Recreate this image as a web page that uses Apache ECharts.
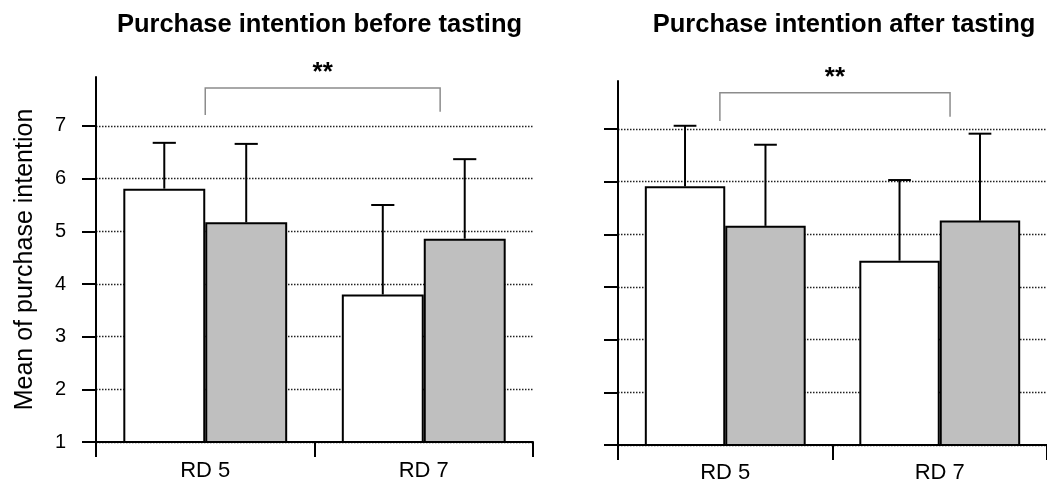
<!DOCTYPE html>
<html><head><meta charset="utf-8">
<script src="https://cdn.jsdelivr.net/npm/echarts@6/dist/echarts.min.js"></script>
<style>html,body{margin:0;padding:0;background:#fff}#c{width:1047px;height:487px}</style>
</head><body><div id="c"></div>
<script>
// ---- data ----
const categories = ['RD 5', 'RD 7'];
const yTicks = [1, 2, 3, 4, 5, 6, 7];
const titles = ['Purchase intention before tasting', 'Purchase intention after tasting'];
const yAxisTitle = 'Mean of purchase intention';
const beforeWhite = [5.81, 3.80];
const beforeWhiteSD = [0.87, 1.70];
const beforeGray = [5.17, 4.86];
const beforeGraySD = [1.49, 1.51];
const afterWhite = [5.91, 4.50];
const afterWhiteSD = [1.15, 1.53];
const afterGray = [5.16, 5.26];
const afterGraySD = [1.54, 1.65];
const sigLabel = '**';
// [from (band units from RD 5 centre), to, top value, left leg end, right leg end]
const bracketBefore = [0, 1.075, 7.72, 7.21, 7.27];
const bracketAfter = [-0.025, 1.048, 7.685, 7.15, 7.23];
const yMin = 1;
const yMaxes = [7.93, 7.91];

// ---- style / layout ----
const FONT = 'Liberation Sans, Arial, Helvetica, sans-serif';
const grids = [
  { left: 96, top: 77, width: 437, height: 365 },
  { left: 618, top: 81, width: 438, height: 364 }
];
const BAR_FRAC = 0.375;

const panels = [
  { white: beforeWhite, whiteSD: beforeWhiteSD, gray: beforeGray, graySD: beforeGraySD, bracket: bracketBefore },
  { white: afterWhite, whiteSD: afterWhiteSD, gray: afterGray, graySD: afterGraySD, bracket: bracketAfter }
];

function errRender(side) {
  return function (params, api) {
    const cat = api.value(0), m = api.value(1), sd = api.value(2);
    const band = api.size([1, 0])[0];
    const c0 = api.coord([cat, m]);
    const c1 = api.coord([cat, m + sd]);
    const x = c0[0] + side * band * BAR_FRAC / 2;
    const cap = band * 0.053;
    return { type: 'group', children: [
      { type: 'line', shape: { x1: x, y1: c0[1], x2: x, y2: c1[1] }, style: { stroke: '#000', lineWidth: 2 } },
      { type: 'line', shape: { x1: x - cap, y1: c1[1], x2: x + cap, y2: c1[1] }, style: { stroke: '#000', lineWidth: 2 } }
    ]};
  };
}

function bracketRender(params, api) {
  const f0 = api.value(0), f1 = api.value(1), top = api.value(2), lb = api.value(3), rb = api.value(4);
  const band = api.size([1, 0])[0];
  const base = api.coord([0, top]);
  const xa = base[0] + f0 * band, xb = base[0] + f1 * band;
  const yl = api.coord([0, lb])[1], yr = api.coord([0, rb])[1];
  return { type: 'group', children: [
    { type: 'polyline', shape: { points: [[xa, yl], [xa, base[1]], [xb, base[1]], [xb, yr]] },
      style: { stroke: '#8c8c8c', lineWidth: 1.5, fill: 'none' } },
    { type: 'text', x: (xa + xb) / 2, y: base[1] - 2,
      style: { text: sigLabel, font: 'bold 26px ' + FONT, align: 'center', verticalAlign: 'bottom', fill: '#000' } }
  ]};
}

const option = {
  animation: false,
  backgroundColor: '#fff',
  title: titles.map((t, i) => ({
    text: t, left: grids[i].left + grids[i].width / 2 + (i === 0 ? 5 : 7), top: 12, textAlign: 'center', padding: 0,
    textStyle: { fontFamily: FONT, fontSize: 25.5, fontWeight: 'bold', color: '#000' }
  })),
  grid: grids.map(g => Object.assign({ containLabel: false }, g)),
  xAxis: grids.map((g, i) => ({
    type: 'category', gridIndex: i, data: categories, boundaryGap: true,
    axisLine: { lineStyle: { color: '#000', width: 2 } },
    axisTick: { show: true, length: 15, alignWithLabel: false, lineStyle: { color: '#000', width: 2 } },
    axisLabel: { fontFamily: FONT, fontSize: 22, color: '#000', margin: i === 0 ? 18 : 17 },
    splitLine: { show: false }
  })),
  yAxis: grids.map((g, i) => ({
    type: 'value', gridIndex: i, min: yMin, max: yMaxes[i], interval: 1,
    name: i === 0 ? yAxisTitle : '', nameLocation: 'middle', nameGap: 58,
    nameTextStyle: { fontFamily: FONT, fontSize: 25, color: '#000' },
    axisLine: { show: true, lineStyle: { color: '#000', width: 2 } },
    axisTick: { show: true, length: 14, customValues: yTicks, lineStyle: { color: '#000', width: 2 } },
    axisLabel: { show: i === 0, customValues: yTicks, fontFamily: FONT, fontSize: 20, color: '#000', margin: 30 },
    splitLine: { show: true, lineStyle: { color: '#222', width: 1.3, type: [1.5, 1.5] } }
  })),
  series: []
};

panels.forEach((p, i) => {
  option.series.push(
    { type: 'bar', xAxisIndex: i, yAxisIndex: i, data: p.white, barWidth: (BAR_FRAC * 100) + '%', barGap: '0%',
      itemStyle: { color: '#ffffff', borderColor: '#000', borderWidth: 2 }, silent: true, z: 2 },
    { type: 'bar', xAxisIndex: i, yAxisIndex: i, data: p.gray, barWidth: (BAR_FRAC * 100) + '%', barGap: '0%',
      itemStyle: { color: '#bfbfbf', borderColor: '#000', borderWidth: 2 }, silent: true, z: 2 },
    { type: 'custom', xAxisIndex: i, yAxisIndex: i, renderItem: errRender(-1), z: 3, silent: true,
      data: categories.map((c, k) => [k, p.white[k], p.whiteSD[k]]) },
    { type: 'custom', xAxisIndex: i, yAxisIndex: i, renderItem: errRender(1), z: 3, silent: true,
      data: categories.map((c, k) => [k, p.gray[k], p.graySD[k]]) },
    { type: 'custom', xAxisIndex: i, yAxisIndex: i, renderItem: bracketRender, z: 3, silent: true,
      data: [p.bracket] }
  );
});

const chart = echarts.init(document.getElementById('c'), null, { renderer: 'canvas' });
chart.setOption(option);
</script>
</body></html>
